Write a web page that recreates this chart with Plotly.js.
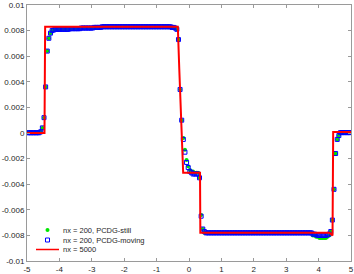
<!DOCTYPE html>
<html><head><meta charset="utf-8">
<script src="https://cdn.plot.ly/plotly-3.0.1.min.js"></script>
<style>html,body{margin:0;padding:0;background:#fff;}#chart{width:354px;height:274px;}</style>
</head><body><div id="chart"></div>
<script>
// cell centres, nx = 200
const xCells = [
-4.975,-4.925,-4.875,-4.825,-4.775,-4.725,-4.675,-4.625,-4.575,-4.525,
-4.475,-4.425,-4.375,-4.325,-4.275,-4.225,-4.175,-4.125,-4.075,-4.025,
-3.975,-3.925,-3.875,-3.825,-3.775,-3.725,-3.675,-3.625,-3.575,-3.525,
-3.475,-3.425,-3.375,-3.325,-3.275,-3.225,-3.175,-3.125,-3.075,-3.025,
-2.975,-2.925,-2.875,-2.825,-2.775,-2.725,-2.675,-2.625,-2.575,-2.525,
-2.475,-2.425,-2.375,-2.325,-2.275,-2.225,-2.175,-2.125,-2.075,-2.025,
-1.975,-1.925,-1.875,-1.825,-1.775,-1.725,-1.675,-1.625,-1.575,-1.525,
-1.475,-1.425,-1.375,-1.325,-1.275,-1.225,-1.175,-1.125,-1.075,-1.025,
-0.975,-0.925,-0.875,-0.825,-0.775,-0.725,-0.675,-0.625,-0.575,-0.525,
-0.475,-0.425,-0.375,-0.325,-0.275,-0.225,-0.175,-0.125,-0.075,-0.025,
0.025,0.075,0.125,0.175,0.225,0.275,0.325,0.375,0.425,0.475,
0.525,0.575,0.625,0.675,0.725,0.775,0.825,0.875,0.925,0.975,
1.025,1.075,1.125,1.175,1.225,1.275,1.325,1.375,1.425,1.475,
1.525,1.575,1.625,1.675,1.725,1.775,1.825,1.875,1.925,1.975,
2.025,2.075,2.125,2.175,2.225,2.275,2.325,2.375,2.425,2.475,
2.525,2.575,2.625,2.675,2.725,2.775,2.825,2.875,2.925,2.975,
3.025,3.075,3.125,3.175,3.225,3.275,3.325,3.375,3.425,3.475,
3.525,3.575,3.625,3.675,3.725,3.775,3.825,3.875,3.925,3.975,
4.025,4.075,4.125,4.175,4.225,4.275,4.325,4.375,4.425,4.475,
4.525,4.575,4.625,4.675,4.725,4.775,4.825,4.875,4.925,4.975];

// nx = 200, PCDG-still
const yStill = [
0.00002,0.00002,0.00002,0.00002,0.00002,0.00002,0.00002,0.00002,0.0001,0.0004,
0.0012,0.0036,0.0064,0.0074,0.0078,0.0080,0.00805,0.0081,0.0081,0.0081,
0.0081,0.0081,0.0081,0.0081,0.0081,0.0081,0.00815,0.00815,0.00815,0.00815,
0.00815,0.00815,0.00815,0.0082,0.0082,0.0082,0.0082,0.0082,0.0082,0.0082,
0.0082,0.00825,0.00825,0.00825,0.00825,0.00825,0.0083,0.0083,0.0083,0.0083,
0.0083,0.0083,0.0083,0.0083,0.0083,0.0083,0.0083,0.0083,0.0083,0.0083,
0.0083,0.0083,0.0083,0.0083,0.0083,0.0083,0.0083,0.0083,0.0083,0.0083,
0.0083,0.0083,0.0083,0.0083,0.0083,0.0083,0.0083,0.0083,0.0083,0.0083,
0.0083,0.0083,0.0083,0.0083,0.0083,0.0083,0.0083,0.0083,0.0083,0.00825,
0.00825,0.0082,0.0081,0.0073,0.0034,0.0010,-0.0004,-0.0013,-0.0021,-0.0026,
-0.0029,-0.0030,-0.0030,-0.0031,-0.0031,-0.0031,-0.0035,-0.0064,-0.0075,-0.0078,
-0.0078,-0.0078,-0.0078,-0.0078,-0.0078,-0.0078,-0.0078,-0.0078,-0.0078,-0.0078,
-0.0078,-0.0078,-0.0078,-0.0078,-0.0078,-0.0078,-0.0078,-0.0078,-0.0078,-0.0078,
-0.0078,-0.0078,-0.0078,-0.0078,-0.0078,-0.0078,-0.0078,-0.0078,-0.0078,-0.0078,
-0.0078,-0.0078,-0.0078,-0.0078,-0.0078,-0.0078,-0.0078,-0.0078,-0.0078,-0.0078,
-0.0078,-0.0078,-0.0078,-0.0078,-0.0078,-0.0078,-0.0078,-0.0078,-0.0078,-0.0078,
-0.0078,-0.0078,-0.0078,-0.0078,-0.0078,-0.0078,-0.0078,-0.0078,-0.0078,-0.0078,
-0.0078,-0.0078,-0.0078,-0.0078,-0.0078,-0.0078,-0.0080,-0.0080,-0.0081,-0.0081,
-0.0082,-0.0082,-0.0082,-0.0082,-0.0082,-0.0081,-0.0080,-0.0077,-0.0068,-0.0044,
-0.0016,-0.0005,-0.0002,0.00003,0.00003,0.00003,0.00003,0.00003,0.00003,0.00003];

// nx = 200, PCDG-moving
const yMoving = [
0.00002,0.00002,0.00002,0.00002,0.00002,0.00002,0.00002,0.00002,0.0001,0.0004,
0.0012,0.0036,0.0064,0.0074,0.0078,0.0080,0.00805,0.0081,0.0081,0.0081,
0.0081,0.0081,0.0081,0.0081,0.0081,0.0081,0.00815,0.00815,0.00815,0.00815,
0.00815,0.00815,0.00815,0.0082,0.0082,0.0082,0.0082,0.0082,0.0082,0.0082,
0.0082,0.00825,0.00825,0.00825,0.00825,0.00825,0.0083,0.0083,0.0083,0.0083,
0.0083,0.0083,0.0083,0.0083,0.0083,0.0083,0.0083,0.0083,0.0083,0.0083,
0.0083,0.0083,0.0083,0.0083,0.0083,0.0083,0.0083,0.0083,0.0083,0.0083,
0.0083,0.0083,0.0083,0.0083,0.0083,0.0083,0.0083,0.0083,0.0083,0.0083,
0.0083,0.0083,0.0083,0.0083,0.0083,0.0083,0.0083,0.0083,0.0083,0.00825,
0.00825,0.0082,0.0081,0.0073,0.0034,0.0010,-0.0005,-0.0015,-0.0023,-0.0027,
-0.0030,-0.0031,-0.0032,-0.0032,-0.0032,-0.0032,-0.0035,-0.0065,-0.0075,-0.0077,
-0.0078,-0.0078,-0.0078,-0.0078,-0.0078,-0.0078,-0.0078,-0.0078,-0.0078,-0.0078,
-0.0078,-0.0078,-0.0078,-0.0078,-0.0078,-0.0078,-0.0078,-0.0078,-0.0078,-0.0078,
-0.0078,-0.0078,-0.0078,-0.0078,-0.0078,-0.0078,-0.0078,-0.0078,-0.0078,-0.0078,
-0.0078,-0.0078,-0.0078,-0.0078,-0.0078,-0.0078,-0.0078,-0.0078,-0.0078,-0.0078,
-0.0078,-0.0078,-0.0078,-0.0078,-0.0078,-0.0078,-0.0078,-0.0078,-0.0078,-0.0078,
-0.0078,-0.0078,-0.0078,-0.0078,-0.0078,-0.0078,-0.0078,-0.0078,-0.0078,-0.0078,
-0.0078,-0.0078,-0.0078,-0.0078,-0.0078,-0.0078,-0.0079,-0.0079,-0.00795,-0.0080,
-0.0080,-0.0080,-0.0080,-0.0080,-0.0080,-0.00795,-0.0079,-0.0077,-0.0068,-0.0044,
-0.0016,-0.0005,-0.0002,0.00003,0.00003,0.00003,0.00003,0.00003,0.00003,0.00003];

// nx = 5000 reference solution (breakpoints of the profile)
const xRef = [-5, -4.46, -4.44, -0.345, -0.30, -0.25, -0.21, -0.18, 0.34, 0.35, 4.33, 4.40, 4.43, 4.45, 5];
const yRef = [0, 0, 0.0083, 0.0083, 0.0050, 0.0010, -0.0020, -0.0031, -0.0031, -0.0078, -0.0078, -0.0080, -0.0080, 0.00008, 0.00008];

const seriesNames = ['nx = 200, PCDG-still', 'nx = 200, PCDG-moving', 'nx = 5000'];
const xTicks = [-5,-4,-3,-2,-1,0,1,2,3,4,5];
const xTickText = ['-5','-4','-3','-2','-1','0','1','2','3','4','5'];
const yTicks = [-0.01,-0.008,-0.006,-0.004,-0.002,0,0.002,0.004,0.006,0.008,0.01];
const yTickText = ['-0.01','-0.008','-0.006','-0.004','-0.002','0','0.002','0.004','0.006','0.008','0.01'];

const GREEN = 'rgb(0,230,0)', BLUE = 'rgb(0,0,255)', RED = 'rgb(255,0,0)';
const FONT = 'Liberation Sans, Arial, sans-serif';

const traces = [
  {x: xCells, y: yStill, name: seriesNames[0], type: 'scatter', mode: 'markers',
   marker: {symbol: 'circle', size: 4, color: GREEN, line: {width: 0}}},
  {x: xCells, y: yMoving, name: seriesNames[1], type: 'scatter', mode: 'markers',
   marker: {symbol: 'square-open', size: 4, color: BLUE, line: {width: 1, color: BLUE}}},
  {x: xRef, y: yRef, name: seriesNames[2], type: 'scatter', mode: 'lines',
   line: {color: RED, width: 2}}
];

const axisCommon = {
  showgrid: false, zeroline: false, showline: true, linecolor: '#9a9a9a', linewidth: 1,
  mirror: 'ticks', ticks: 'inside', ticklen: 3, tickcolor: '#9a9a9a', tickwidth: 1,
  tickfont: {family: FONT, size: 8, color: '#262626'}
};

// custom legend (compact rows)
const legX = (px) => (px - 27) / 324;
const legY = (py) => (261 - py) / 256;
const rows = [230, 240, 249.5];
const annotations = seriesNames.map((t, k) => ({
  xref: 'paper', yref: 'paper', x: legX(61), y: legY(rows[k]), xanchor: 'left', yanchor: 'middle',
  text: t, showarrow: false, font: {family: FONT, size: 7.5, color: '#262626'}
}));
const shapes = [
  {type: 'circle', xref: 'paper', yref: 'paper', xsizemode: 'pixel', ysizemode: 'pixel',
   xanchor: legX(47.5), yanchor: legY(rows[0]), x0: -2, x1: 2, y0: -2, y1: 2,
   fillcolor: GREEN, line: {width: 0}},
  {type: 'rect', xref: 'paper', yref: 'paper', xsizemode: 'pixel', ysizemode: 'pixel',
   xanchor: legX(47.5), yanchor: legY(rows[1]), x0: -2, x1: 2, y0: -2, y1: 2,
   fillcolor: 'rgba(0,0,0,0)', line: {width: 1, color: BLUE}},
  {type: 'line', xref: 'paper', yref: 'paper', x0: legX(36), x1: legX(59),
   y0: legY(rows[2]), y1: legY(rows[2]), line: {width: 1.5, color: RED}}
];

const layout = {
  width: 354, height: 274,
  margin: {l: 27, r: 3, t: 5, b: 13, pad: 0},
  paper_bgcolor: '#fff', plot_bgcolor: '#fff',
  showlegend: false,
  xaxis: Object.assign({}, axisCommon, {range: [-5, 5], tickvals: xTicks, ticktext: xTickText}),
  yaxis: Object.assign({}, axisCommon, {range: [-0.01, 0.01], tickvals: yTicks, ticktext: yTickText}),
  annotations: annotations,
  shapes: shapes
};

Plotly.newPlot('chart', traces, layout, {displayModeBar: false, staticPlot: true});
</script>
</body></html>
